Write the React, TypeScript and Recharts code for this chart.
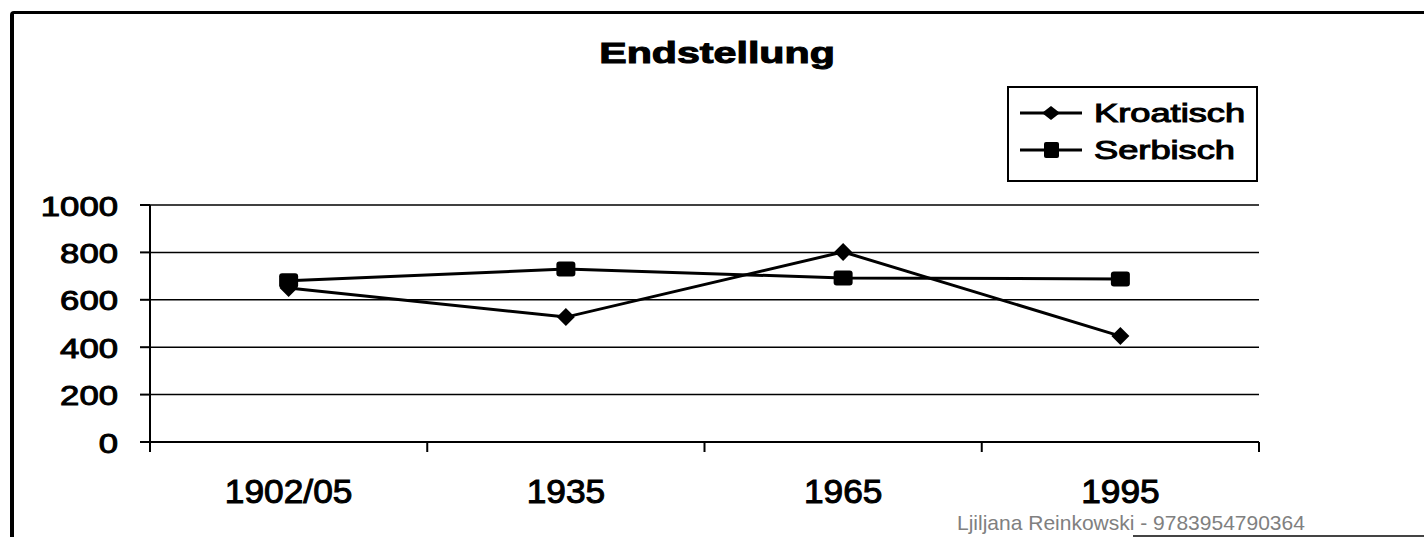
import { CartesianGrid, Legend, Line, LineChart, XAxis, YAxis } from "recharts";

const categories = ["1902/05", "1935", "1965", "1995"];
const kroatisch = [650, 527, 802, 447];
const serbisch = [680, 730, 692, 688];
const yTicks = [0, 200, 400, 600, 800, 1000];
const seriesNames = ["Kroatisch", "Serbisch"];

const data = categories.map((label, i) => ({
  pos: i + 0.5,
  label,
  kroatisch: kroatisch[i],
  serbisch: serbisch[i],
}));
// boundaries between categories get a tick mark, centers get a label
const xTicks = categories.flatMap((_, i) => [i, i + 0.5]).concat(categories.length);

const FONT = '"Liberation Sans", Arial, sans-serif';

function XTick({ x, y, payload }: any) {
  const v = payload.value as number;
  if (Number.isInteger(v)) {
    return <line x1={x} x2={x} y1={y - 10} y2={y} stroke="#000" strokeWidth={2} />;
  }
  return (
    <g transform={`translate(${x},${y + 51})`}>
      <text
        textAnchor="middle"
        transform="scale(1.07,1)"
        fontSize={33}
        fontFamily={FONT}
        fill="#000"
        stroke="#000"
        strokeWidth={1}
      >
        {categories[Math.floor(v)]}
      </text>
    </g>
  );
}

function YTick({ x, y, payload }: any) {
  return (
    <g transform={`translate(${x},${y + 10.5})`}>
      <text
        textAnchor="end"
        transform="scale(1.24,1)"
        fontSize={28}
        fontFamily={FONT}
        fill="#000"
        stroke="#000"
        strokeWidth={1}
      >
        {payload.value}
      </text>
    </g>
  );
}

const Diamond = (p: any) => (
  <path
    key={`d-${p.index}`}
    d={`M${p.cx},${p.cy - 9}L${p.cx + 9},${p.cy}L${p.cx},${p.cy + 9}L${p.cx - 9},${p.cy}Z`}
    fill="#000"
  />
);

const Square = (p: any) => (
  <rect key={`s-${p.index}`} x={p.cx - 9.5} y={p.cy - 7.5} width={19} height={15} rx={3} fill="#000" />
);

function LegendIcon({ i }: { i: number }) {
  return (
    <svg width={62} height={20} style={{ display: "block" }}>
      <line x1={0} x2={62} y1={10} y2={10} stroke="#000" strokeWidth={3} />
      {i === 0 ? (
        <path d="M31,3L40,10L31,17L22,10Z" fill="#000" />
      ) : (
        <rect x={24} y={2} width={15} height={16} rx={2} fill="#000" />
      )}
    </svg>
  );
}

function LegendBox() {
  return (
    <div
      style={{
        position: "relative",
        width: 251,
        height: 96,
        border: "2px solid #000",
        boxSizing: "border-box",
        background: "#fff",
      }}
    >
      {seriesNames.map((name, i) => (
        <div
          key={name}
          style={{
            position: "absolute",
            left: 11,
            top: 10 + i * 37,
            height: 30,
            display: "flex",
            alignItems: "center",
          }}
        >
          <LegendIcon i={i} />
          <span
            style={{
              marginLeft: 12,
              fontFamily: FONT,
              fontSize: 25,
              lineHeight: "30px",
              display: "inline-block",
              transform: "scaleX(1.45)",
              transformOrigin: "left center",
              WebkitTextStroke: "1px #000",
              color: "#000",
            }}
          >
            {name}
          </span>
        </div>
      ))}
    </div>
  );
}

export default function App() {
  return (
    <div
      style={{
        position: "absolute",
        left: 0,
        top: 0,
        width: 1424,
        height: 537,
        overflow: "hidden",
        background: "#fff",
        fontFamily: FONT,
      }}
    >
      <div
        style={{
          position: "absolute",
          left: 10,
          top: 11,
          width: 1500,
          height: 600,
          borderLeft: "4px solid #000",
          borderTop: "3px solid #000",
          borderTopLeftRadius: 4,
        }}
      />
      <div
        style={{
          position: "absolute",
          left: 417,
          top: 39,
          width: 600,
          textAlign: "center",
          fontSize: 29,
          lineHeight: "28px",
          fontWeight: 700,
          transform: "scaleX(1.42)",
          transformOrigin: "center",
          WebkitTextStroke: "1px #000",
          color: "#000",
        }}
      >
        Endstellung
      </div>
      <LineChart
        width={1424}
        height={537}
        data={data}
        margin={{ top: 205, right: 165, left: 0, bottom: 0 }}
      >
        <CartesianGrid vertical={false} stroke="#000" strokeWidth={1.5} />
        <XAxis
          dataKey="pos"
          type="number"
          domain={[0, categories.length]}
          ticks={xTicks}
          interval={0}
          tickLine={false}
          tickSize={10}
          tickMargin={0}
          height={95}
          axisLine={{ stroke: "#000", strokeWidth: 2 }}
          tick={<XTick />}
        />
        <YAxis
          type="number"
          domain={[0, 1000]}
          ticks={yTicks}
          interval={0}
          width={150}
          tickSize={10}
          tickMargin={22}
          tickLine={{ stroke: "#000", strokeWidth: 2 }}
          axisLine={{ stroke: "#000", strokeWidth: 2 }}
          tick={<YTick />}
        />
        <Legend
          layout="vertical"
          align="center"
          verticalAlign="middle"
          wrapperStyle={{ left: 1007, top: 86, width: 251, height: 96 }}
          content={() => <LegendBox />}
        />
        <Line
          type="linear"
          dataKey="kroatisch"
          name={seriesNames[0]}
          stroke="#000"
          strokeWidth={3}
          dot={Diamond}
          activeDot={false}
          isAnimationActive={false}
        />
        <Line
          type="linear"
          dataKey="serbisch"
          name={seriesNames[1]}
          stroke="#000"
          strokeWidth={3}
          dot={Square}
          activeDot={false}
          isAnimationActive={false}
        />
      </LineChart>
      <div
        style={{
          position: "absolute",
          left: 957,
          top: 512,
          fontSize: 21,
          lineHeight: "21px",
          color: "#808080",
          whiteSpace: "nowrap",
        }}
      >
        Ljiljana Reinkowski - 9783954790364
      </div>
      <div
        style={{
          position: "absolute",
          left: 1133,
          top: 535,
          width: 291,
          height: 2,
          background: "#444",
        }}
      />
    </div>
  );
}
